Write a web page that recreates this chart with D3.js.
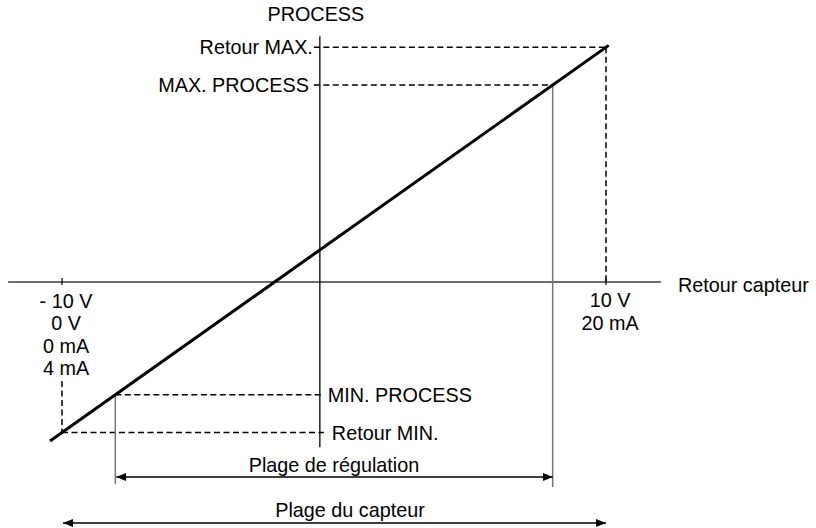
<!DOCTYPE html>
<html>
	<head>
		<title>Retour capteur / PROCESS</title>
		<script src="https://d3js.org/d3.v7.min.js"></script>
		<style>
			body { margin: 0; background: #fff; }
			text { font-family: "Liberation Sans", Arial, sans-serif; font-size: 19.8px; fill: #000; }
		</style>
	</head>

	<body>

		<svg width="816" height="528"></svg>

		<script type="text/javascript">

			// sensor signal in % (0 = -10 V / 4 mA, 100 = 10 V / 20 mA)
			var sensorRange = [0, 100];
			var regulationRange = [9.8, 90.2];
			var lineEnds = [-2.2, 100.5];          // characteristic: process = sensor
			var axisCross = [47.4, 39.1];          // where the two axes sit (sensor %, process %)
			var hAxisExtent = [-9.9, 110.1];
			var vAxisExtent = [-3.8, 102.9];

			var tickLabelsLeft = ['- 10 V', '0 V', '0 mA', '4 mA'];
			var tickLabelsRight = ['10 V', '20 mA'];

			var levelNames = ['Retour MIN.', 'MIN. PROCESS', 'MAX. PROCESS', 'Retour MAX.'];
			var levelValues = [0, 9.8, 90.2, 100];

			var x = d3.scaleLinear().domain([0, 100]).range([62, 606]);
			var y = d3.scaleLinear().domain([0, 100]).range([432.5, 47.3]);

			var svg = d3.select('svg');

			var defs = svg.append('defs');
			['start', 'end'].forEach(function(k) {
				defs.append('marker')
					.attr('id', 'arr-' + k)
					.attr('viewBox', '0 0 10 8')
					.attr('refX', 10).attr('refY', 4)
					.attr('markerWidth', 10).attr('markerHeight', 8)
					.attr('markerUnits', 'userSpaceOnUse')
					.attr('orient', 'auto-start-reverse')
					.append('path').attr('d', 'M0,0L10,4L0,8Z').attr('fill', '#000');
			});

			var ax = x(axisCross[0]), ay = y(axisCross[1]);

			// axes
			svg.append('line')
				.attr('x1', x(hAxisExtent[0])).attr('x2', x(hAxisExtent[1]))
				.attr('y1', ay).attr('y2', ay)
				.attr('stroke', '#6e6e6e').attr('stroke-width', 2);
			svg.append('line')
				.attr('x1', ax).attr('x2', ax)
				.attr('y1', y(vAxisExtent[1])).attr('y2', y(vAxisExtent[0]))
				.attr('stroke', '#000').attr('stroke-width', 1.3);

			// small ticks on the sensor axis
			svg.selectAll('.tick')
				.data(sensorRange)
				.enter().append('line')
				.attr('x1', function(d) { return x(d); })
				.attr('x2', function(d) { return x(d); })
				.attr('y1', ay - 4).attr('y2', ay + 3)
				.attr('stroke', '#000').attr('stroke-width', 1.2);

			svg.append('text').attr('x', ax - 4).attr('y', 21)
				.attr('text-anchor', 'middle').text('PROCESS');
			svg.append('text').attr('x', x(hAxisExtent[1]) + 17).attr('y', ay + 10)
				.text('Retour capteur');

			svg.selectAll('.lblL')
				.data(tickLabelsLeft)
				.enter().append('text')
				.attr('x', x(sensorRange[0]) + 4)
				.attr('y', function(d, i) { return 308 + i * 22.3; })
				.attr('text-anchor', 'middle')
				.text(function(d) { return d; });
			svg.selectAll('.lblR')
				.data(tickLabelsRight)
				.enter().append('text')
				.attr('x', x(sensorRange[1]) + 4)
				.attr('y', function(d, i) { return 307 + i * 23; })
				.attr('text-anchor', 'middle')
				.text(function(d) { return d; });

			// dashed guides from each level to the characteristic
			var dash = '6,3.5';
			levelValues.forEach(function(v, i) {
				var high = v > axisCross[1];
				svg.append('line')
					.attr('x1', high ? ax - 6 : x(v)).attr('x2', high ? x(v) : ax + 4)
					.attr('y1', y(v)).attr('y2', y(v))
					.attr('stroke', '#000').attr('stroke-width', 1.5)
					.attr('stroke-dasharray', dash);
				svg.append('text')
					.attr('x', high ? ax - 7 + (i === 2 ? -4 : 0) : ax + 8 + (i === 0 ? 4 : 0))
					.attr('y', y(v) + 7)
					.attr('text-anchor', high ? 'end' : 'start')
					.text(levelNames[i]);
			});

			// vertical dashed drops at the sensor ends
			svg.append('line')
				.attr('x1', x(sensorRange[0])).attr('x2', x(sensorRange[0]))
				.attr('y1', 381).attr('y2', y(levelValues[0]))
				.attr('stroke', '#000').attr('stroke-width', 1.5).attr('stroke-dasharray', dash);
			svg.append('line')
				.attr('x1', x(sensorRange[1])).attr('x2', x(sensorRange[1]))
				.attr('y1', y(levelValues[3])).attr('y2', ay)
				.attr('stroke', '#000').attr('stroke-width', 1.5).attr('stroke-dasharray', dash);

			// thin limits of the regulation range
			svg.selectAll('.lim')
				.data(regulationRange)
				.enter().append('line')
				.attr('x1', function(d) { return x(d); })
				.attr('x2', function(d) { return x(d); })
				.attr('y1', function(d) { return y(d); })
				.attr('y2', function(d, i) { return i ? 487 : 484; })
				.attr('stroke', '#777').attr('stroke-width', 1.5);

			// characteristic
			svg.append('line')
				.attr('x1', x(lineEnds[0])).attr('y1', y(lineEnds[0]))
				.attr('x2', x(lineEnds[1])).attr('y2', y(lineEnds[1]))
				.attr('stroke', '#000').attr('stroke-width', 3);

			// range arrows
			var ranges = [
				{r: regulationRange, yy: 477, label: 'Plage de régulation', ty: 472},
				{r: sensorRange, yy: 523, label: 'Plage du capteur', ty: 517}
			];
			ranges.forEach(function(o) {
				svg.append('line')
					.attr('x1', x(o.r[0]) + 1).attr('x2', x(o.r[1]))
					.attr('y1', o.yy).attr('y2', o.yy)
					.attr('stroke', '#000').attr('stroke-width', 1.5)
					.attr('marker-start', 'url(#arr-start)')
					.attr('marker-end', 'url(#arr-end)');
				svg.append('text')
					.attr('x', (x(o.r[0]) + x(o.r[1])) / 2 + (o.r[0] === 0 ? 16 : 0))
					.attr('y', o.ty)
					.attr('text-anchor', 'middle')
					.text(o.label);
			});

		</script>

	</body>
</html>
